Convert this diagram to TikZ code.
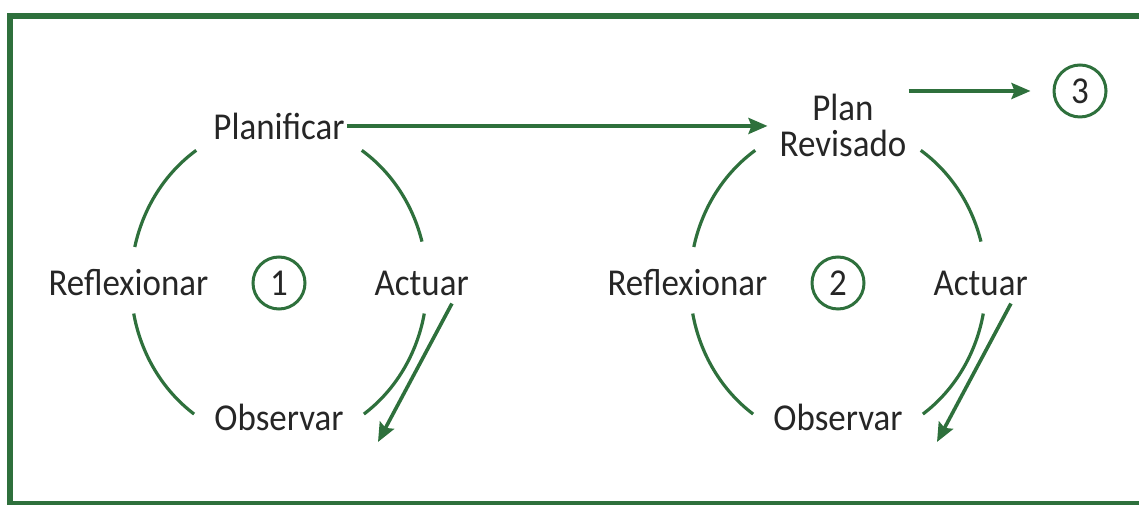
\documentclass[tikz,border=0pt]{standalone}
\usepackage{fontspec}
\setmainfont{Carlito}[FakeStretch=0.92]
\usepackage{tikz}
\usetikzlibrary{arrows.meta,positioning}

\definecolor{cyclegreen}{RGB}{46,112,60}

\begin{document}
\begin{tikzpicture}[x=1pt, y=1pt,
    every node/.style={font=\fontsize{38}{36}\selectfont, text=black!85, inner sep=2pt},
    stage/.style={circle, draw=cyclegreen, line width=3pt, minimum size=52pt, inner sep=0pt},
    loopline/.style={draw=cyclegreen, line width=3.2pt},
    flow/.style={draw=cyclegreen, line width=3.6pt, -{Stealth[length=19pt, width=16pt, inset=3pt]}}]

    % Frame, open on the right
    \useasboundingbox (0,0) rectangle (1139,505);
    \clip (0,0) rectangle (1139,505);
    \draw[cyclegreen, line width=6pt] (1160,0.5) -| (9.5,488.5) -- (1160,488.5);

    % First cycle
    \node[stage] (num1) at (279,222) {1};
    \node (plan1) [above=114pt of num1] {Planificar};
    \node (refl1) [left=41pt of num1] {Reflexionar};
    \node (act1) [right=66pt of num1] {Actuar};
    \node (obs1) [below=91pt of num1] {Observar};

    % Second cycle
    \node[stage] (num2) at (838,222) {2};
    \node (revis) [above=97pt of num2, xshift=5pt, align=center] {Plan\\Revisado};
    \node (refl2) [left=41pt of num2] {Reflexionar};
    \node (act2) [right=66pt of num2] {Actuar};
    \node (obs2) [below=91pt of num2] {Observar};

    % Next cycle
    \node[stage] (num3) at (1080,414) {3};

    % Loop arcs
    \draw[loopline] (num1.center) ++(56:148pt and 160pt) arc[start angle=56, end angle=15, x radius=148pt, y radius=160pt];
    \draw[loopline] (num1.center) ++(124:148pt and 160pt) arc[start angle=124, end angle=167, x radius=148pt, y radius=160pt];
    \draw[loopline] (num1.center) ++(191:148pt and 160pt) arc[start angle=191, end angle=235, x radius=148pt, y radius=160pt];
    \draw[loopline] (num1.center) ++(-11:148pt and 160pt) arc[start angle=-11, end angle=-55, x radius=148pt, y radius=160pt];
    \draw[loopline] (num2.center) ++(56:148pt and 160pt) arc[start angle=56, end angle=15, x radius=148pt, y radius=160pt];
    \draw[loopline] (num2.center) ++(124:148pt and 160pt) arc[start angle=124, end angle=167, x radius=148pt, y radius=160pt];
    \draw[loopline] (num2.center) ++(191:148pt and 160pt) arc[start angle=191, end angle=235, x radius=148pt, y radius=160pt];
    \draw[loopline] (num2.center) ++(-11:148pt and 160pt) arc[start angle=-11, end angle=-55, x radius=148pt, y radius=160pt];

    % Arrows
    \coordinate (tip1) at ([shift={(99pt,-159pt)}]num1.center);
    \coordinate (tip2) at ([shift={(99pt,-159pt)}]num2.center);
    \draw[flow] ([shift={(-19pt,-6pt)}]act1.south east) -- (tip1);
    \draw[flow] ([shift={(-19pt,-6pt)}]act2.south east) -- (tip2);
    \draw[flow, shorten >=10pt] (plan1.east) -- (plan1.east -| revis.west);
    \draw[flow, shorten >=22pt] (revis.east |- num3) -- (num3.west);

\end{tikzpicture}
\end{document}
